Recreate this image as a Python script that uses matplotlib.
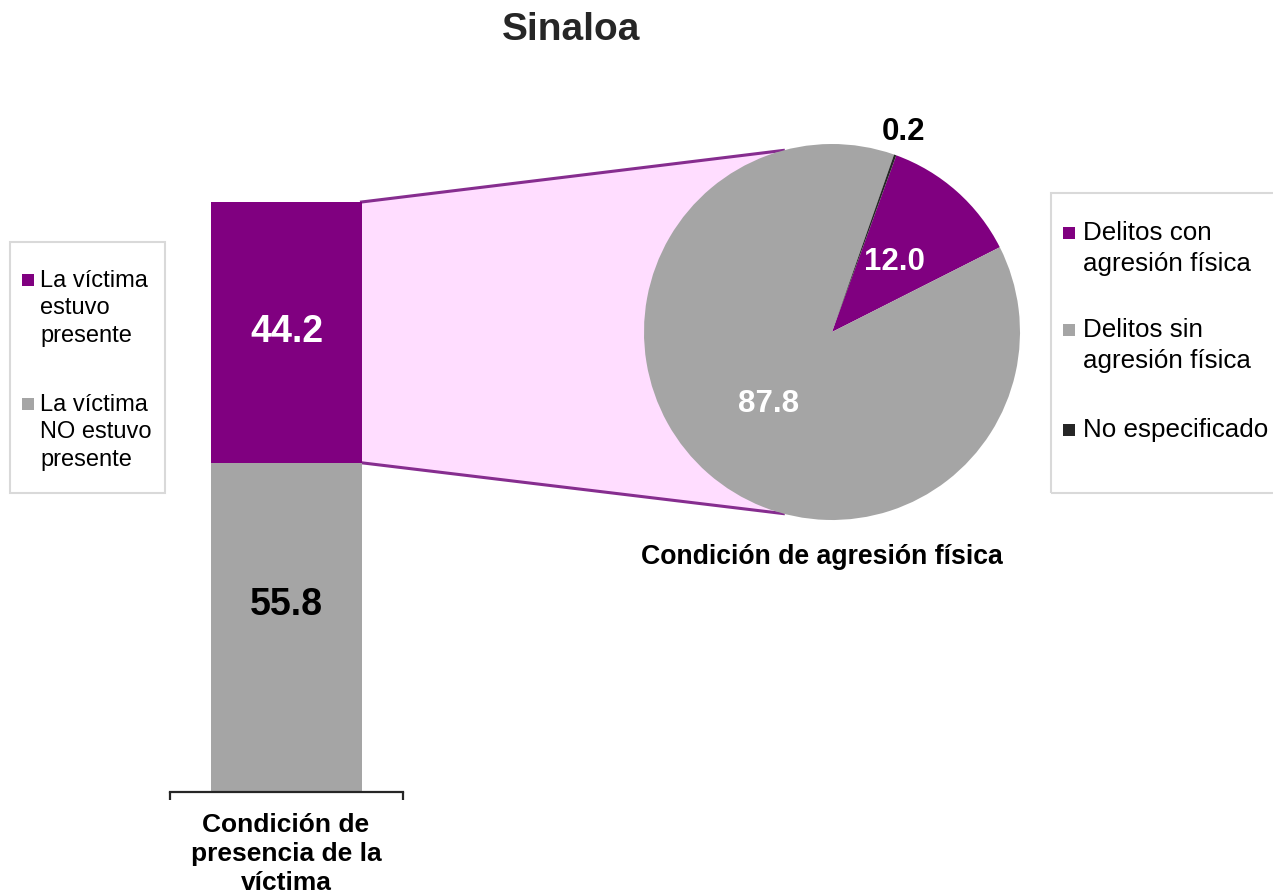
import matplotlib
matplotlib.use("Agg")
import matplotlib.pyplot as plt
from matplotlib.patches import Polygon, Rectangle
from matplotlib.lines import Line2D
import numpy as np

plt.rcParams['font.family'] = ['Liberation Sans', 'DejaVu Sans']

# ---------------- data ----------------
title = "Sinaloa"
bar_categories = ["La víctima\nNO estuvo\npresente", "La víctima\nestuvo\npresente"]
bar_values = [55.8, 44.2]
bar_labels = ["55.8", "44.2"]
bar_axis_label = "Condición de\npresencia de la\nvíctima"

pie_categories = ["Delitos con\nagresión física", "Delitos sin\nagresión física", "No especificado"]
pie_values = [12.0, 87.8, 0.2]
pie_labels = ["12.0", "87.8", "0.2"]
pie_axis_label = "Condición de agresión física"

# ---------------- style ----------------
PURPLE = "#800080"
GRAY = "#A5A5A5"
DARK = "#262626"
PINK = "#FFDDFF"
LINK = "#862D8F"
FRAME = "#D9D9D9"
bar_colors = [GRAY, PURPLE]
bar_text_colors = ["black", "white"]
pie_colors = [PURPLE, GRAY, DARK]
pie_text_colors = ["white", "white", "black"]
pie_label_dist = [0.5, 0.51, 1.13]

W, H = 1273, 896
fig = plt.figure(figsize=(W / 100, H / 100), dpi=100)
fig.patch.set_facecolor("white")


def fx(x):
    return x / W


def fy(y):
    return 1 - y / H


def multiline(x, first_baseline, text, pitch, ha="left", **kw):
    for i, line in enumerate(text.split("\n")):
        fig.text(fx(x), fy(first_baseline + i * pitch), line, ha=ha, va="baseline", **kw)


# ---------------- bar ----------------
ax_bar = fig.add_axes([fx(170), fy(792), 233 / W, 590 / H])
ax_bar.patch.set_alpha(0)
bottom = 0.0
bar_patches = []
for v, c in zip(bar_values, bar_colors):
    bc = ax_bar.bar(0, v, bottom=bottom, width=0.644, color=c, linewidth=0)
    bar_patches.append(bc.patches[0])
    bottom += v
ax_bar.set_xlim(-0.5, 0.5)
ax_bar.set_ylim(0, sum(bar_values))
for s in ["left", "right", "top"]:
    ax_bar.spines[s].set_visible(False)
ax_bar.spines["bottom"].set_color(DARK)
ax_bar.spines["bottom"].set_linewidth(1.6)
ax_bar.set_yticks([])
ax_bar.set_xticks([-0.5, 0.5])
ax_bar.set_xticklabels(["", ""])
ax_bar.tick_params(axis="x", direction="out", length=6, width=1.6, color=DARK)

# bar value labels
for p, lab, tc in zip(bar_patches, bar_labels, bar_text_colors):
    cx = p.get_x() + p.get_width() / 2
    cy = p.get_y() + p.get_height() / 2
    off = 16 if tc == "black" else 0
    ax_bar.annotate(lab, xy=(cx, cy), xytext=(0, off), textcoords="offset points",
                    ha="center", va="center", fontsize=27, fontweight="bold", color=tc)

multiline(286, 832, bar_axis_label, 29, ha="center", fontsize=19,
          fontweight="bold", color="black")

# ---------------- pie ----------------
ax_pie = fig.add_axes([fx(644), fy(520), 376 / W, 376 / H])
wedges, _ = ax_pie.pie(pie_values, colors=pie_colors, startangle=70, counterclock=False,
                       radius=1, wedgeprops=dict(linewidth=0))
ax_pie.set_xlim(-1, 1)
ax_pie.set_ylim(-1, 1)
ax_pie.patch.set_alpha(0)
for w, lab, tc, d in zip(wedges, pie_labels, pie_text_colors, pie_label_dist):
    mid = np.deg2rad((w.theta1 + w.theta2) / 2)
    ax_pie.text(d * np.cos(mid), d * np.sin(mid), lab, ha="center", va="center",
                fontsize=22.5, fontweight="bold", color=tc, clip_on=False)

fig.text(fx(822), fy(557), pie_axis_label, ha="center", va="center", fontsize=19.2,
         fontweight="bold", color="black")

# ---------------- connector ----------------
top_bar = bar_patches[1]
inv = fig.transFigure.inverted()
bar_tr = inv.transform(ax_bar.transData.transform(
    (top_bar.get_x() + top_bar.get_width(), top_bar.get_y() + top_bar.get_height())))
bar_br = inv.transform(ax_bar.transData.transform(
    (top_bar.get_x() + top_bar.get_width(), top_bar.get_y())))
ang = np.deg2rad(105)
pie_t = inv.transform(ax_pie.transData.transform((np.cos(ang), np.sin(ang))))
pie_b = inv.transform(ax_pie.transData.transform((np.cos(ang), -np.sin(ang))))
poly = Polygon([bar_tr, pie_t, pie_b, bar_br], closed=True, facecolor=PINK,
               edgecolor="none", transform=fig.transFigure, zorder=-2)
fig.add_artist(poly)
for a, b in [(bar_tr, pie_t), (bar_br, pie_b)]:
    fig.add_artist(Line2D([a[0], b[0]], [a[1], b[1]], color=LINK, lw=2.2,
                          transform=fig.transFigure, zorder=-1))

# ---------------- title ----------------
fig.text(fx(571), fy(30), title, ha="center", va="center", fontsize=28,
         fontweight="bold", color=DARK)


# ---------------- legends ----------------
def draw_legend(box, entries, colors, text_x, baselines, sq_x, fs, pitch):
    x0, y0, x1, y1 = box
    fig.add_artist(Rectangle((fx(x0), fy(y1)), (x1 - x0) / W, (y1 - y0) / H,
                             fill=False, edgecolor=FRAME, lw=1.5,
                             transform=fig.transFigure))
    for lab, c, bl in zip(entries, colors, baselines):
        fig.add_artist(Rectangle((fx(sq_x), fy(bl - 1)), 12 / W, 12 / H,
                                 facecolor=c, edgecolor="none",
                                 transform=fig.transFigure))
        multiline(text_x, bl, lab, pitch, fontsize=fs, color="black")


draw_legend((10, 242, 165, 493), bar_categories[::-1], bar_colors[::-1], 40,
            [287, 411], 22, 17, 27.5)
draw_legend((1051, 193, 1290, 493), pie_categories, pie_colors, 1083,
            [240, 337, 437], 1063, 18.7, 31)

fig.savefig("out.png", dpi=100)
